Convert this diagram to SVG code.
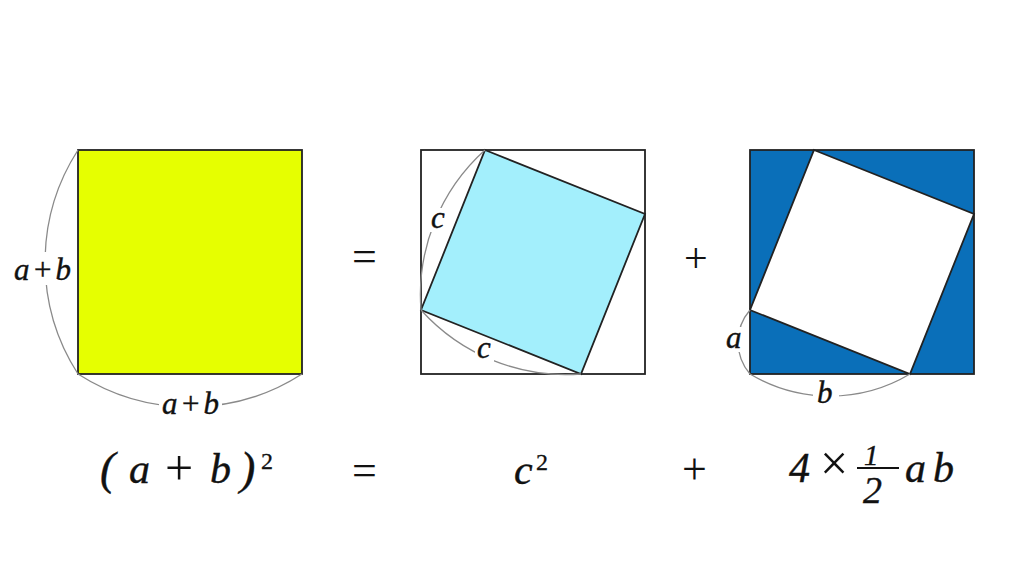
<svg xmlns="http://www.w3.org/2000/svg" width="1024" height="576" viewBox="0 0 1024 576">
<style>
.sq{stroke:#222;stroke-width:1.8;stroke-linejoin:miter}
.arc{fill:none;stroke:#8a8a8a;stroke-width:1.3}
.lbl{font-family:"Liberation Serif",serif;font-style:italic;font-size:31px;fill:#111;stroke:#111;stroke-width:0.4}
.m{font-family:"Liberation Serif",serif;font-size:40px;fill:#111}
.mi{font-family:"Liberation Serif",serif;font-style:italic;font-size:42px;fill:#111;stroke:#111;stroke-width:0.4}
.bg{fill:#fff}
</style>
<rect width="1024" height="576" fill="#fff"/>
<g id="square-ab">
<rect class="sq" x="78" y="150" width="224" height="224" fill="#E6FF00"/>
</g>
<g id="eq1"><text class="m" x="352" y="271" style="font-size:44px">=</text></g>
<g id="square-c">
<rect class="sq" x="421" y="150" width="224" height="224" fill="#fff"/>
<polygon class="sq" points="485,150 645,214 581,374 421,310" fill="#A3EFFC"/>
</g>
<g id="plus1"><text class="m" x="684" y="272" style="font-size:42px">+</text></g>
<g id="square-4t">
<rect class="sq" x="750" y="150" width="224" height="224" fill="#0A6FB9"/>
<polygon class="sq" points="814,150 974,214 910,374 750,310" fill="#fff"/>
</g>
<g id="connectors">
<path class="arc" d="M78,150 A207,207 0 0 0 78,374"/>
<path class="arc" d="M78,374 A207,207 0 0 0 302,374"/>
<path class="arc" d="M485,150 A195,195 0 0 0 421,310"/>
<path class="arc" d="M421,310 A195,195 0 0 0 581,374"/>
<path class="arc" d="M750,310 A49,49 0 0 0 750,374"/>
<path class="arc" d="M750,374 A156,156 0 0 0 910,374"/>
</g>
<g id="labels">
<rect class="bg" x="12" y="252" width="62" height="33"/>
<text class="lbl" x="14" y="280" textLength="57">a+b</text>
<rect class="bg" x="159" y="390" width="63" height="29"/>
<text class="lbl" x="162" y="414" textLength="57">a+b</text>
<rect class="bg" x="429" y="208" width="17" height="24"/>
<text class="lbl" x="431" y="228">c</text>
<rect class="bg" x="475" y="340" width="19" height="22"/>
<text class="lbl" x="477" y="358">c</text>
<rect class="bg" x="724" y="327" width="21" height="25"/>
<text class="lbl" x="726" y="348">a</text>
<rect class="bg" x="813" y="381" width="26" height="26"/>
<text class="lbl" x="817" y="403">b</text>
</g>
<g id="formula">
<text class="mi" x="100" y="484" style="font-size:46px">(</text>
<text class="mi" x="129" y="483">a</text>
<text class="m" x="165" y="485" style="font-size:50px">+</text>
<text class="mi" x="210" y="483">b</text>
<text class="mi" x="240" y="484" style="font-size:46px">)</text>
<text class="m" x="261" y="469" style="font-size:24px;stroke:#111;stroke-width:0.3">2</text>
<text class="m" x="352" y="485" style="font-size:44px">=</text>
<text class="mi" x="514" y="484">c</text>
<text class="m" x="536" y="470" style="font-size:24px;stroke:#111;stroke-width:0.3">2</text>
<text class="m" x="682" y="484" style="font-size:44px">+</text>
<text class="mi" x="789" y="482">4</text>
<text class="m" x="820" y="480" style="font-size:50px">×</text>
<line x1="857" y1="468" x2="899" y2="468" stroke="#111" stroke-width="2"/>
<text class="mi" x="864" y="465" style="font-size:29px">1</text>
<text class="mi" x="863" y="503" style="font-size:38px">2</text>
<text class="mi" x="905" y="482">a</text>
<text class="mi" x="933" y="482">b</text>
</g>
</svg>
